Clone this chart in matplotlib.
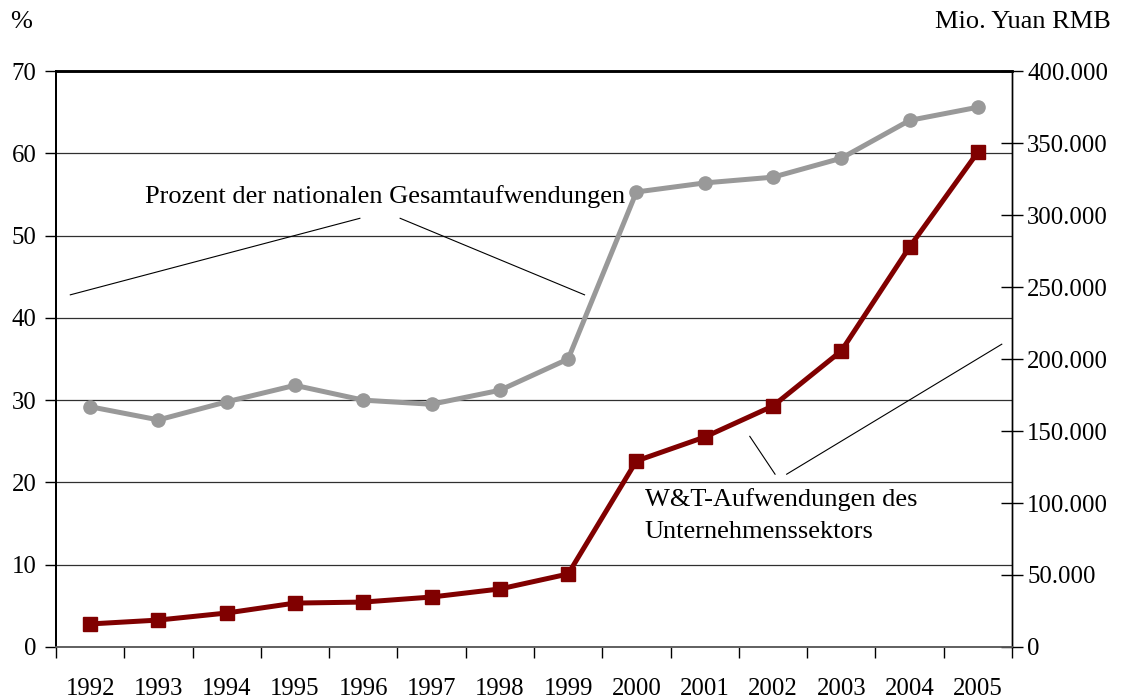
import matplotlib.pyplot as plt
from matplotlib.ticker import FuncFormatter, FixedLocator
import numpy as np

plt.rcParams['font.family'] = ['Liberation Serif', 'DejaVu Serif']

years = ['1992', '1993', '1994', '1995', '1996', '1997', '1998',
         '1999', '2000', '2001', '2002', '2003', '2004', '2005']
# share of national R&D spending, % (left axis)
pct_national = [29.2, 27.6, 29.8, 31.8, 30.0, 29.5, 31.2,
                35.0, 55.3, 56.4, 57.1, 59.4, 64.0, 65.6]
# business sector R&D spending, Mio. Yuan RMB (right axis)
business_rd = [16000, 18700, 23600, 30500, 31200, 34700, 40300,
               50700, 129200, 145800, 167400, 205600, 277800, 343700]

fs_tick = 17.8
fs_text = 19
fig = plt.figure(figsize=(11.31, 6.99), dpi=100)
ax = fig.add_axes([0.0495, 0.0744, 0.8453, 0.824])
ax2 = ax.twinx()

x = np.arange(len(years))

ax.plot(x, pct_national, color='#999999', lw=3.6, marker='o', ms=9.5,
        zorder=3)
ax2.plot(x, business_rd, color='#800000', lw=3.6, marker='s', ms=10,
         zorder=3)

ax.set_xlim(-0.5, len(years) - 0.5)
ax.set_ylim(0, 70)
ax2.set_ylim(0, 400000)

# category axis: ticks at boundaries, labels centred
ax.xaxis.set_major_locator(FixedLocator(np.arange(len(years) + 1) - 0.5))
ax.set_xticklabels([])
ax.set_xticks(x, minor=True)
ax.set_xticklabels(years, minor=True, fontsize=fs_tick)
ax.tick_params(axis='x', which='major', direction='out', length=8,
               width=1)
ax.tick_params(axis='x', which='minor', length=0, pad=22)

ax.set_yticks(np.arange(0, 71, 10))
ax.tick_params(axis='y', direction='out', length=8, width=1,
               labelsize=fs_tick, pad=6)
ax.yaxis.grid(True, color='#303030', lw=0.9)
ax.set_axisbelow(True)

ax2.set_yticks(np.arange(0, 400001, 50000))
ax2.yaxis.set_major_formatter(
    FuncFormatter(lambda v, p: f"{int(v):,}".replace(',', '.')))
ax2.tick_params(axis='y', direction='inout', length=16, width=1,
                labelsize=fs_tick, pad=3)

for a in (ax, ax2):
    a.spines['top'].set_linewidth(1.8)
    a.spines['left'].set_linewidth(1.4)
    a.spines['right'].set_linewidth(1.0)
    a.spines['bottom'].set_color('#606060')
    a.spines['bottom'].set_linewidth(1.2)

fig.text(0.009, 0.968, '%', fontsize=fs_text, ha='left', va='center')
fig.text(0.982, 0.968, 'Mio. Yuan RMB', fontsize=fs_text, ha='right',
         va='center')

# annotation for percentage line
ax.text(4.32, 54.8, 'Prozent der nationalen Gesamtaufwendungen',
        fontsize=fs_text, ha='center', va='center')
ax.plot([-0.29, 3.95], [42.8, 52.1], color='black', lw=0.8,
        clip_on=False)
ax.plot([4.54, 7.24], [52.1, 42.8], color='black', lw=0.8)

# annotation for business sector line
ax.text(8.12, 17.9, 'W&T-Aufwendungen des', fontsize=fs_text, ha='left',
        va='center')
ax.text(8.12, 14.0, 'Unternehmenssektors', fontsize=fs_text, ha='left',
        va='center')
ax.plot([9.66, 10.03], [25.6, 21.0], color='black', lw=0.8)
ax.plot([10.2, 13.35], [21.0, 36.8], color='black', lw=0.8)

fig.savefig('out.png', dpi=100)
